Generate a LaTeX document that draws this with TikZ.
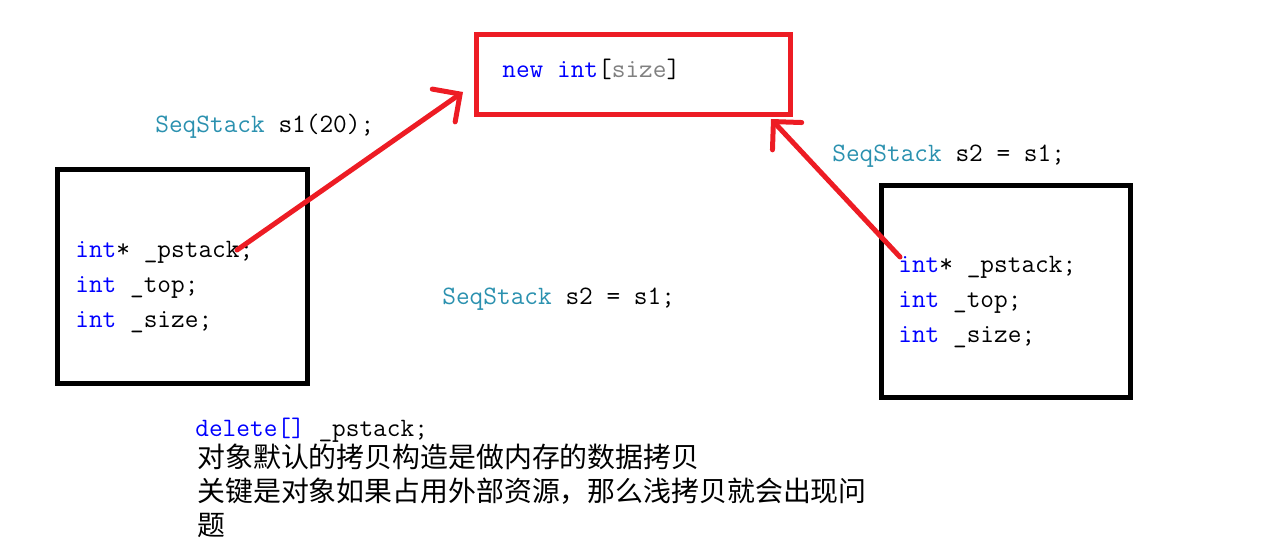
\documentclass[tikz,border=0pt]{standalone}
\usepackage{fontspec}
\newfontfamily\cjkfont{Noto Sans CJK SC}
\usetikzlibrary{arrows.meta}
\definecolor{penred}{HTML}{ED1C24}
\definecolor{kwblue}{HTML}{0000FF}
\definecolor{typeteal}{HTML}{2B91AF}
\definecolor{argtgray}{HTML}{808080}
\newcommand{\kw}[1]{\textcolor{kwblue}{#1}}
\newcommand{\ty}[1]{\textcolor{typeteal}{#1}}
\tikzset{
  heapbox/.style={draw=penred, line width=0.1cm, minimum width=6.28cm, minimum height=1.6cm, inner sep=0pt},
  objbox/.style={draw=black, line width=0.1cm, inner sep=0pt},
  code/.style={anchor=base west, inner sep=0pt, font=\ttfamily\fontsize{15.12}{19.84}\selectfont},
  note/.style={anchor=base west, inner sep=0pt, font=\cjkfont\fontsize{15.87}{19.84}\selectfont},
  penarrow/.style={draw=penred, line width=0.1cm, line cap=round, line join=round, -{Straight Barb[length=0.4cm, width=0.8cm, line cap=round]}},
}

\begin{document}
\begin{tikzpicture}
\useasboundingbox (0,0) rectangle (25.46,10.88);
\node[heapbox] (heap) at (12.67,9.39) {};
\node[code] (heaptxt) at (10.04,9.32) {\kw{new int}[\textcolor{argtgray}{size}]};
\node[code] (s1decl) at (3.10,8.22) {\ty{SeqStack} s1(20);};
\node[objbox, minimum width=5.0cm, minimum height=4.28cm] (s1obj) at (3.65,5.34) {};
\node[code] (s1ptr) at (1.50,5.72) {\kw{int}* \_pstack;};
\node[code] (s1top) at (1.50,5.02) {\kw{int} \_top;};
\node[code] (s1size) at (1.50,4.32) {\kw{int} \_size;};
\node[code] (copyline) at (8.84,4.78) {\ty{SeqStack} s2 = s1;};
\node[code] (s2decl) at (16.64,7.64) {\ty{SeqStack} s2 = s1;};
\node[objbox, minimum width=4.98cm, minimum height=4.24cm] (s2obj) at (20.11,5.05) {};
\node[code] (s2ptr) at (17.96,5.42) {\kw{int}* \_pstack;};
\node[code] (s2top) at (17.96,4.72) {\kw{int} \_top;};
\node[code] (s2size) at (17.96,4.02) {\kw{int} \_size;};
\node[code] (freeline) at (3.90,2.16) {\kw{delete[]} \_pstack;};
\node[note] (note1) at (3.94,1.54) {对象默认的拷贝构造是做内存的数据拷贝};
\node[note] (note2) at (3.94,0.86) {关键是对象如果占用外部资源，那么浅拷贝就会出现问};
\node[note] (note3) at (3.94,0.18) {题};
\coordinate (s1from) at (4.74,5.88);
\coordinate (s1tip) at (9.26,9.04);
\coordinate (s2from) at (18.00,5.74);
\coordinate (s2tip) at (15.42,8.50);
\draw[penarrow] (s1from) -- (s1tip);
\draw[penarrow] (s2from) -- (s2tip);
\end{tikzpicture}
\end{document}
